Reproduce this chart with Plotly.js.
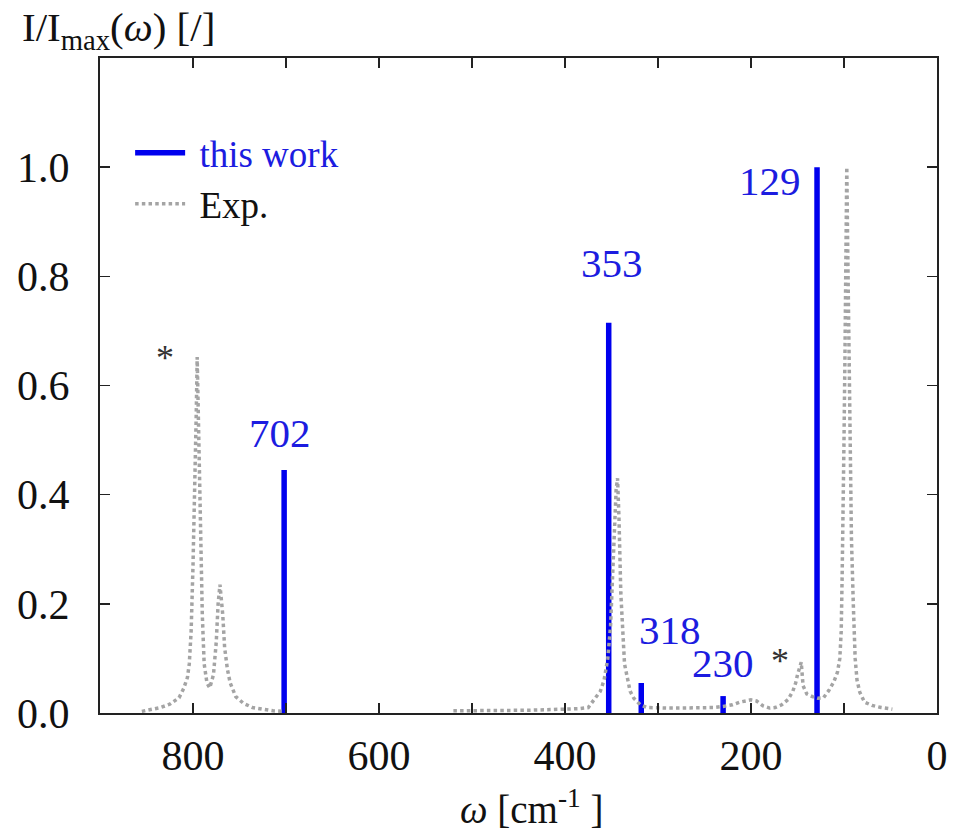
<!DOCTYPE html>
<html>
<head>
<meta charset="utf-8">
<script src="https://cdn.plot.ly/plotly-3.0.1.min.js"></script>
<style>html,body{margin:0;padding:0;background:#fff}#chart{width:963px;height:831px}</style>
</head>
<body>
<div id="chart"></div>
<script>
// Calculated modes (this work)
const modeFreq = [702, 353, 318, 230, 129];
const modeInt  = [0.445, 0.715, 0.055, 0.031, 1.0];

const expW = [855, 845, 835, 825, 815, 810, 806, 804, 802, 800, 798, 796.5, 795.5, 794, 792, 790, 788, 785, 782, 778, 775, 773, 771, 768, 766, 763, 760, 754, 746, 736, 725, 714, 704,
  null,
  520, 500, 480, 460, 440, 420, 400, 385, 375, 368, 362, 358, 354, 351, 349, 347, 345, 343.5, 342, 340, 338, 336, 333, 330, 326, 319, 312,
  300, 290, 280, 270, 260, 250, 240, 230, 220, 212, 206, 200, 194, 187, 180, 174, 167, 160, 155, 152, 150, 148, 146, 144, 140, 134, 128, 122, 116, 111, 107, 104.5, 103, 102, 101, 100, 99, 98, 97, 96, 95, 94, 93, 92, 90, 88, 86, 83, 78, 70, 60, 48];
const expI = [0.003, 0.006, 0.010, 0.016, 0.028, 0.045, 0.065, 0.09, 0.15, 0.27, 0.40, 0.55, 0.652, 0.52, 0.33, 0.18, 0.09, 0.055, 0.046, 0.07, 0.13, 0.20, 0.235, 0.18, 0.12, 0.08, 0.055, 0.03, 0.018, 0.010, 0.007, 0.004, 0.003,
  null,
  0.004, 0.004, 0.004, 0.005, 0.005, 0.006, 0.007, 0.008, 0.010, 0.025, 0.04, 0.06, 0.10, 0.16, 0.25, 0.34, 0.41, 0.43, 0.36, 0.22, 0.14, 0.09, 0.065, 0.04, 0.027, 0.015, 0.010,
  0.009, 0.009, 0.009, 0.009, 0.009, 0.010, 0.010, 0.012, 0.015, 0.020, 0.022, 0.024, 0.022, 0.013, 0.009, 0.010, 0.015, 0.025, 0.04, 0.055, 0.07, 0.085, 0.093, 0.05, 0.035, 0.030, 0.027, 0.028, 0.042, 0.057, 0.075, 0.10, 0.15, 0.25, 0.35, 0.50, 0.65, 0.80, 1.0, 0.85, 0.70, 0.55, 0.42, 0.32, 0.20, 0.10, 0.06, 0.038, 0.020, 0.014, 0.010, 0.007];

const xTickVals = [800, 600, 400, 200, 0];
const yTickVals = [0, 0.2, 0.4, 0.6, 0.8, 1.0];

// star markers on experimental peaks (assigned to impurities)
const starW = [830, 169];
const starI = [0.661, 0.106];

const FONT = 'Liberation Serif, Times New Roman, serif';
const BLUE = '#0000ee';
const LBLUE = '#1c1ce0';
const NB = '\u00a0';

// build stick segments from the data arrays
const stickX = [], stickY = [];
modeFreq.forEach((w, i) => { stickX.push(w, w, null); stickY.push(0, modeInt[i], null); });

const traces = [
  {x: stickX, y: stickY, type: 'scatter', mode: 'lines', name: NB + '<span style="color:#1c1ce0">this work</span>',
   line: {color: BLUE, width: 5.5}, hoverinfo: 'skip'},
  {x: expW, y: expI, type: 'scatter', mode: 'lines', name: NB + 'Exp.', connectgaps: false,
   line: {color: '#a4a4a4', width: 3.5, dash: '3.5px,3.2px'}, hoverinfo: 'skip'}
];

// label offsets (px) relative to the top of each stick
const labelShift = [[-4, 12], [3, 35], [29, 28], [0, 8], [-47, -39]];
const annotations = modeFreq.map((w, i) => ({
  x: w, y: modeInt[i], xref: 'x', yref: 'y', text: String(w), showarrow: false,
  xanchor: 'center', yanchor: 'bottom', xshift: labelShift[i][0], yshift: labelShift[i][1],
  font: {family: FONT, size: 41, color: LBLUE}
}));
starW.forEach((w, i) => annotations.push({
  x: w, y: starI[i], xref: 'x', yref: 'y', text: '*', showarrow: false,
  xanchor: 'center', yanchor: 'middle', yshift: -6,
  font: {family: FONT, size: 36, color: '#333'}
}));
annotations.push({
  x: -0.095, y: 1.0, xref: 'paper', yref: 'paper', xanchor: 'left', yanchor: 'bottom', yshift: 0,
  text: 'I/I<sub>max</sub>(<i>ω</i>) [/]', showarrow: false,
  font: {family: FONT, size: 41, color: '#111'}
});
annotations.push({
  x: 0.515, y: 0, xref: 'paper', yref: 'paper', xanchor: 'center', yanchor: 'bottom', yshift: -120,
  text: '<i>ω</i> [cm<sup>-1</sup> ]', showarrow: false,
  font: {family: FONT, size: 39, color: '#111'}
});

const axisCommon = {
  showgrid: false, zeroline: false, showline: true, linecolor: '#222', linewidth: 2,
  mirror: 'ticks', ticks: 'inside', ticklen: 10, tickwidth: 1.5, tickcolor: '#222',
  tickfont: {family: FONT, size: 42, color: '#111'}
};

const layout = {
  width: 963, height: 831,
  margin: {l: 100, r: 26, t: 58, b: 118},
  paper_bgcolor: '#fff', plot_bgcolor: '#fff',
  showlegend: true,
  legend: {x: 0.036, y: 0.902, xanchor: 'left', yanchor: 'top', bgcolor: 'rgba(0,0,0,0)',
           font: {family: FONT, size: 37, color: '#111'}, itemwidth: 50, tracegroupgap: 0},
  xaxis: Object.assign({}, axisCommon, {
    range: [900, 0], tickvals: xTickVals, ticktext: xTickVals.map(String), ticklabelstandoff: 5,
    minor: {dtick: 100, tick0: 0, ticks: 'inside', ticklen: 10, tickwidth: 1.5, tickcolor: '#222'}
  }),
  yaxis: Object.assign({}, axisCommon, {
    range: [0, 1.2], tickvals: yTickVals, ticktext: yTickVals.map(v => v.toFixed(1)), ticklabelstandoff: 20
  }),
  annotations: annotations
};

Plotly.newPlot('chart', traces, layout, {staticPlot: true, displayModeBar: false});
</script>
</body>
</html>
